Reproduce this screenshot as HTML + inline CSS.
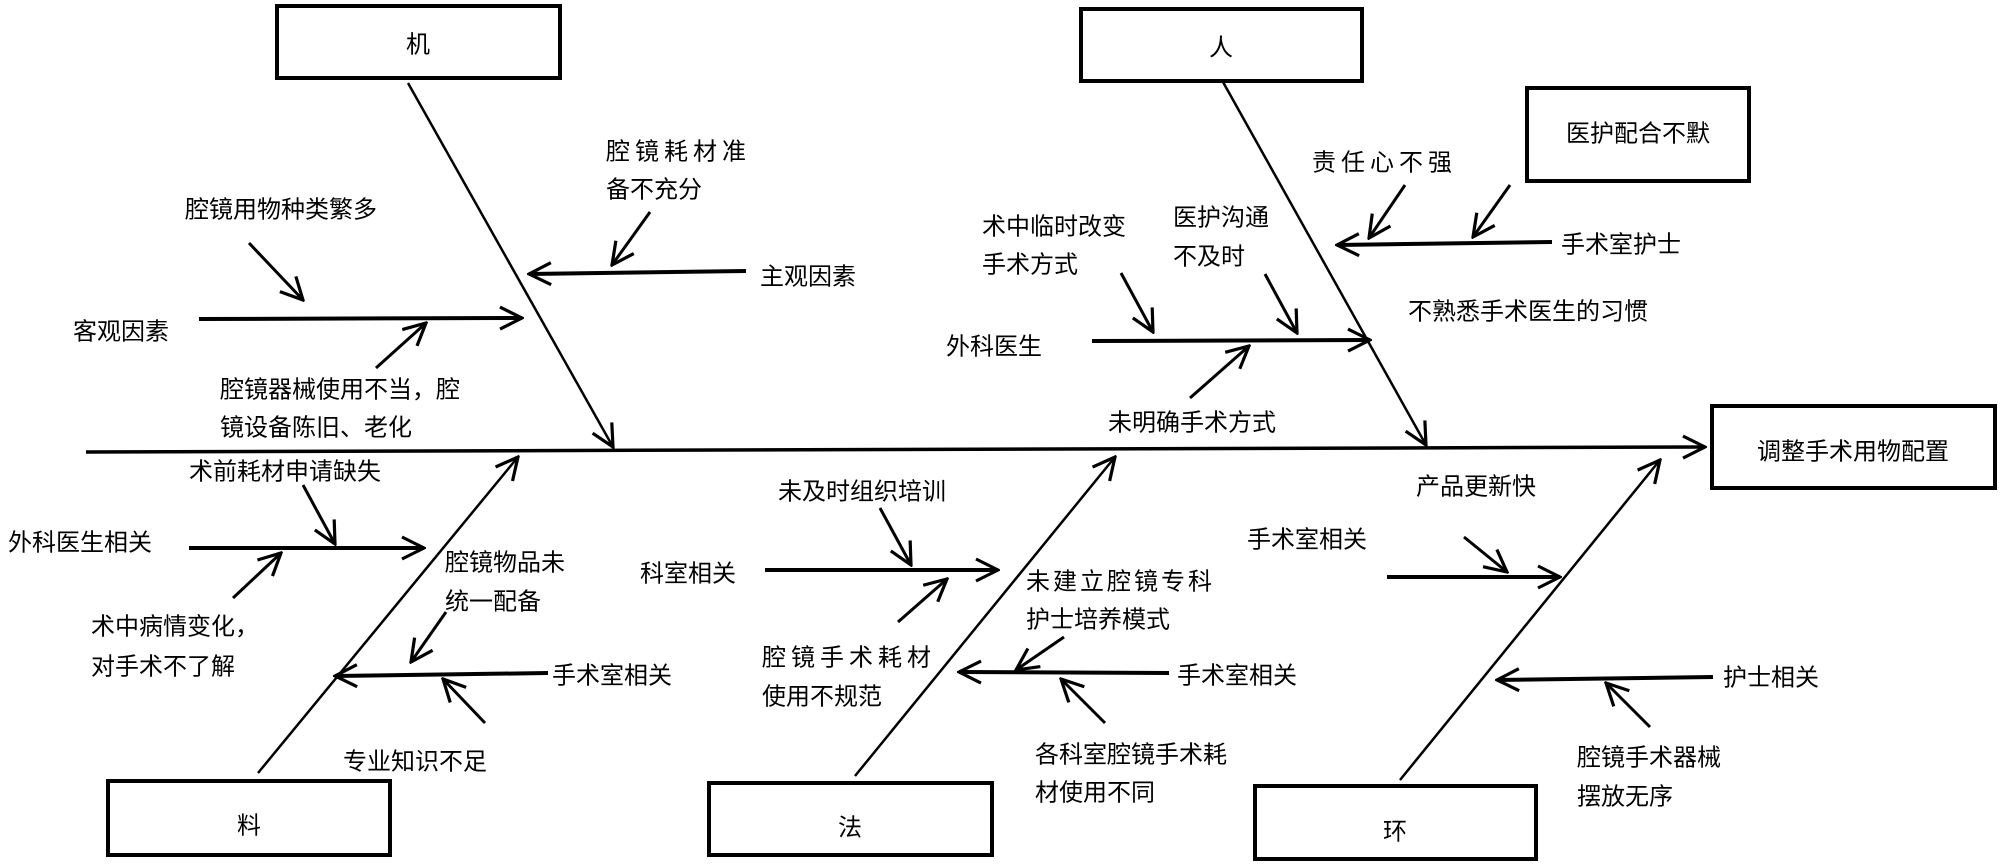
<!DOCTYPE html>
<html><head><meta charset="utf-8"><style>
html,body{margin:0;padding:0;background:#fff;}
svg{display:block;}
text{font-family:"Liberation Sans","Noto Sans CJK SC",sans-serif;font-size:24px;fill:#000;dominant-baseline:central;}
.sp{letter-spacing:5px;}
</style></head><body>
<svg width="2000" height="867" viewBox="0 0 2000 867" xmlns="http://www.w3.org/2000/svg">
<defs>
<marker id="a" markerUnits="userSpaceOnUse" markerWidth="26" markerHeight="26" viewBox="0 0 13 13" refX="12" refY="6.5" orient="auto">
<path d="M1,1 L12,6.5 L1,12" fill="none" stroke="#000" stroke-width="1.6"/>
</marker>
</defs>
<g fill="#fff" stroke="#000" stroke-width="4">
<rect x="277" y="6" width="283" height="72"/>
<rect x="1081" y="9" width="281" height="72"/>
<rect x="1527" y="88" width="222" height="93"/>
<rect x="1712" y="406" width="283" height="82"/>
<rect x="108" y="781" width="282" height="74"/>
<rect x="709" y="783" width="283" height="72"/>
<rect x="1255" y="786" width="281" height="73"/>
</g>
<g stroke="#000" fill="none" marker-end="url(#a)">
<line x1="86" y1="452" x2="1705" y2="447" stroke-width="3.5"/>
<g stroke-width="2.5">
<line x1="408" y1="83" x2="613" y2="447"/>
<line x1="1223" y1="82" x2="1426" y2="445"/>
<line x1="258" y1="773" x2="518" y2="457"/>
<line x1="855" y1="776" x2="1115" y2="457"/>
<line x1="1400" y1="780" x2="1660" y2="460"/>
</g>
<g stroke-width="4">
<line x1="746" y1="271" x2="529" y2="274"/>
<line x1="199" y1="319" x2="522" y2="318"/>
<line x1="1552" y1="242" x2="1337" y2="245"/>
<line x1="1092" y1="341" x2="1370" y2="340"/>
<line x1="189" y1="548" x2="424" y2="548"/>
<line x1="548" y1="673" x2="335" y2="676"/>
<line x1="765" y1="570" x2="998" y2="570"/>
<line x1="1169" y1="673" x2="959" y2="672"/>
<line x1="1387" y1="577" x2="1560" y2="577"/>
<line x1="1713" y1="677" x2="1497" y2="680"/>
</g>
<g stroke-width="3">
<line x1="650" y1="212" x2="612" y2="265"/>
<line x1="249" y1="243" x2="303" y2="300"/>
<line x1="376" y1="368" x2="426" y2="323"/>
<line x1="1405" y1="185" x2="1369" y2="238"/>
<line x1="1510" y1="185" x2="1473" y2="237"/>
<line x1="1121" y1="273" x2="1153" y2="332"/>
<line x1="1265" y1="274" x2="1297" y2="333"/>
<line x1="1190" y1="398" x2="1249" y2="346"/>
<line x1="303" y1="485" x2="335" y2="544"/>
<line x1="233" y1="598" x2="281" y2="553"/>
<line x1="446" y1="612" x2="411" y2="662"/>
<line x1="485" y1="723" x2="443" y2="679"/>
<line x1="880" y1="508" x2="911" y2="565"/>
<line x1="898" y1="622" x2="947" y2="579"/>
<line x1="1064" y1="637" x2="1016" y2="670"/>
<line x1="1105" y1="723" x2="1061" y2="679"/>
<line x1="1464" y1="537" x2="1507" y2="572"/>
<line x1="1650" y1="727" x2="1606" y2="683"/>
</g>
</g>
<g text-anchor="middle">
<text x="418" y="45">机</text>
<text x="1221" y="48">人</text>
<text x="1638" y="134">医护配合不默</text>
<text x="1853" y="452">调整手术用物配置</text>
<text x="249" y="826">料</text>
<text x="850" y="828">法</text>
<text x="1395" y="832">环</text>
</g>
<text x="606" y="152" class="sp">腔镜耗材准</text>
<text x="606" y="190">备不充分</text>
<text x="760" y="277">主观因素</text>
<text x="185" y="210">腔镜用物种类繁多</text>
<text x="73" y="332">客观因素</text>
<text x="220" y="390">腔镜器械使用不当，腔</text>
<text x="220" y="428">镜设备陈旧、老化</text>
<text x="1312" y="163" class="sp">责任心不强</text>
<text x="1561" y="245">手术室护士</text>
<text x="1173" y="218">医护沟通</text>
<text x="1173" y="257">不及时</text>
<text x="982" y="227">术中临时改变</text>
<text x="982" y="265">手术方式</text>
<text x="946" y="347">外科医生</text>
<text x="1108" y="423">未明确手术方式</text>
<text x="1408" y="312">不熟悉手术医生的习惯</text>
<text x="189" y="472">术前耗材申请缺失</text>
<text x="8" y="543">外科医生相关</text>
<text x="91" y="627">术中病情变化，</text>
<text x="91" y="667">对手术不了解</text>
<text x="445" y="563">腔镜物品未</text>
<text x="445" y="602">统一配备</text>
<text x="552" y="676">手术室相关</text>
<text x="343" y="762">专业知识不足</text>
<text x="778" y="492">未及时组织培训</text>
<text x="640" y="574">科室相关</text>
<text x="762" y="658" class="sp">腔镜手术耗材</text>
<text x="762" y="697">使用不规范</text>
<text x="1026" y="582" style="letter-spacing:3px">未建立腔镜专科</text>
<text x="1026" y="620">护士培养模式</text>
<text x="1177" y="676">手术室相关</text>
<text x="1035" y="755">各科室腔镜手术耗</text>
<text x="1035" y="793">材使用不同</text>
<text x="1416" y="487">产品更新快</text>
<text x="1247" y="540">手术室相关</text>
<text x="1723" y="678">护士相关</text>
<text x="1577" y="758">腔镜手术器械</text>
<text x="1577" y="797">摆放无序</text>
</svg>
</body></html>
